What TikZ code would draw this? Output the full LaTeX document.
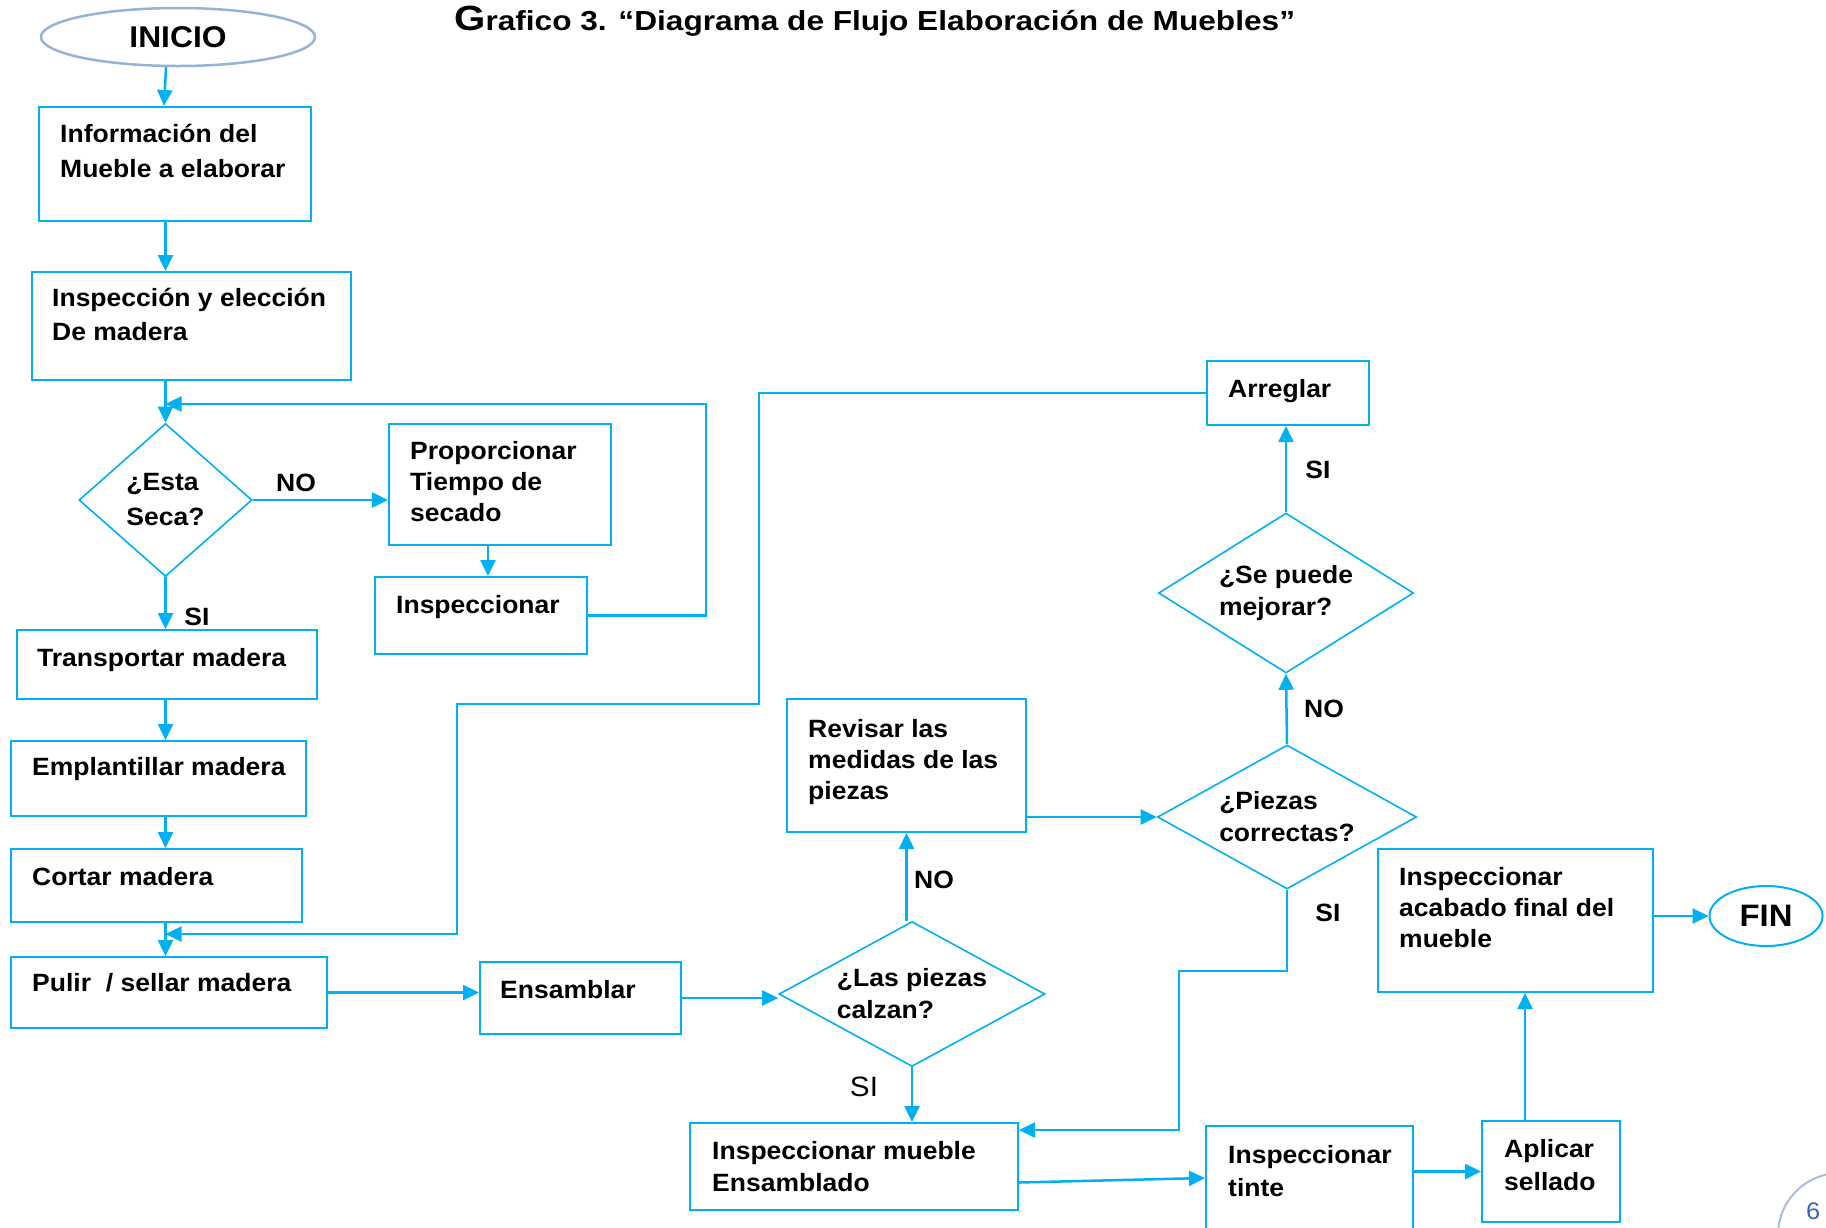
\documentclass[tikz,border=0pt]{standalone}
\usepackage{fontspec}
\setmainfont{Liberation Sans}[FakeStretch=1.06]
\newfontfamily\titulo{Liberation Sans}[FakeStretch=1.15]
\usetikzlibrary{shapes.geometric,arrows.meta}
\definecolor{azul}{HTML}{00B0F0}
\definecolor{bordeini}{HTML}{95B3D7}
\definecolor{pag}{HTML}{A9BEDC}
\definecolor{numpag}{HTML}{3B64AD}
\newcommand{\letra}{\bfseries\fontsize{25}{32}\selectfont}

\begin{document}
\begin{tikzpicture}[x=1pt, y=-1pt]
 \tikzstyle{caja}=[rectangle, draw=azul, line width=2pt, inner sep=0pt]
 \tikzstyle{rombo}=[diamond, draw=azul, line width=1.6pt, inner sep=0pt, align=left, font=\letra]
 \tikzstyle{texto}=[anchor=north west, inner sep=0pt, align=left, font=\letra]
 \tikzstyle{etiq}=[inner sep=0pt, font=\letra]
 \tikzstyle{flecha}=[-{Triangle[length=16pt, width=15pt]}, draw=azul, line width=2.5pt]
 \useasboundingbox (0,0) rectangle (1826,1227);
 \clip (0,0) rectangle (1826,1227);
 %
 \node[anchor=base west, inner sep=0pt, font=\titulo\bfseries\fontsize{27.5}{28}\selectfont] (titulo) at (454,30) {{\fontsize{35}{35}\selectfont G}rafico 3. “Diagrama de Flujo Elaboración de Muebles”};
 %
 \node[ellipse, draw=bordeini, line width=2.5pt, minimum width=274, minimum height=58, inner sep=0pt, font=\bfseries\fontsize{30}{30}\selectfont] (inicio) at (178,37) {INICIO};
 \node[ellipse, draw=azul, line width=2pt, minimum width=113, minimum height=60, inner sep=0pt, font=\bfseries\fontsize{31}{31}\selectfont] (fin) at (1766,916) {FIN};
 %
 \node[caja, minimum width=272, minimum height=114] (info) at (175,164) {};
 \node[caja, minimum width=319, minimum height=108] (insp) at (191.5,326) {};
 \node[caja, minimum width=222, minimum height=121] (prop) at (500,484.5) {};
 \node[caja, minimum width=212, minimum height=77] (inspeccionar) at (481,615.5) {};
 \node[caja, minimum width=300, minimum height=69] (transportar) at (167,664.5) {};
 \node[caja, minimum width=295, minimum height=75] (emplantillar) at (158.5,778.5) {};
 \node[caja, minimum width=291, minimum height=73] (cortar) at (156.5,885.5) {};
 \node[caja, minimum width=316, minimum height=71] (pulir) at (169,992.5) {};
 \node[caja, minimum width=201, minimum height=72] (ensamblar) at (580.5,998) {};
 \node[caja, minimum width=239, minimum height=133] (revisar) at (906.5,765.5) {};
 \node[caja, minimum width=162, minimum height=64] (arreglar) at (1288,393) {};
 \node[caja, minimum width=275, minimum height=143] (acabado) at (1515.5,920.5) {};
 \node[caja, minimum width=328, minimum height=87] (mueble) at (854,1166.5) {};
 \node[caja, minimum width=207, minimum height=124] (tinte) at (1309.5,1188) {};
 \node[caja, minimum width=138, minimum height=101] (aplicar) at (1551,1171.5) {};
 %
 \node[rombo, aspect=1.2, minimum width=173, minimum height=153, font=\bfseries\fontsize{25}{35}\selectfont] (seca) at (165.5,500) {¿Esta\\Seca?};
 \node[rombo, aspect=1.8, minimum width=266, minimum height=145] (calzan) at (912,994) {¿Las piezas\\calzan?};
 \node[rombo, aspect=1.8, minimum width=259, minimum height=144] (correctas) at (1287,817) {¿Piezas\\correctas?};
 \node[rombo, aspect=1.8, minimum width=255, minimum height=160] (mejorar) at (1286,593) {¿Se puede\\mejorar?};
 %
 \node[texto, font=\bfseries\fontsize{25}{35}\selectfont] (tinfo) at (60,124) {Información del\\Mueble a elaborar};
 \node[texto, font=\bfseries\fontsize{25}{34}\selectfont] (tinsp) at (52,288) {Inspección y elección\\De madera};
 \node[texto, font=\bfseries\fontsize{25}{31}\selectfont] (tprop) at (410,441) {Proporcionar\\Tiempo de\\secado};
 \node[texto] (tinspeccionar) at (396,595) {Inspeccionar};
 \node[texto] (ttransportar) at (37,648) {Transportar madera};
 \node[texto] (templantillar) at (32,757) {Emplantillar madera};
 \node[texto] (tcortar) at (32,867) {Cortar madera};
 \node[texto] (tpulir) at (32,973) {Pulir\ \ / sellar madera};
 \node[texto] (tensamblar) at (500,980) {Ensamblar};
 \node[texto, font=\bfseries\fontsize{25}{31}\selectfont] (trevisar) at (808,719) {Revisar las\\medidas de las\\piezas};
 \node[texto] (tarreglar) at (1228,379) {Arreglar};
 \node[texto, font=\bfseries\fontsize{25}{31}\selectfont] (tacabado) at (1399,867) {Inspeccionar\\acabado final del\\mueble};
 \node[texto] (tmueble) at (712,1141) {Inspeccionar mueble\\Ensamblado};
 \node[texto, font=\bfseries\fontsize{25}{33}\selectfont] (ttinte) at (1228,1145) {Inspeccionar\\tinte};
 \node[texto, font=\bfseries\fontsize{25}{33}\selectfont] (taplicar) at (1504,1139) {Aplicar\\sellado};
 %
 \node[etiq] (no1) at (296,483) {NO};
 \node[etiq] (si1) at (197,617) {SI};
 \node[etiq] (no2) at (934,880) {NO};
 \node[etiq, font=\fontsize{28}{28}\selectfont] (si2) at (864,1087) {SI};
 \node[etiq] (no3) at (1324,709) {NO};
 \node[etiq] (si3) at (1328,913) {SI};
 \node[etiq] (si4) at (1318,470) {SI};
 %
 \coordinate (lazo) at (706,404);
 \coordinate (vuelta1) at (759,704);
 \coordinate (vuelta2) at (457,934);
 \coordinate (bajada1) at (1179,971);
 \coordinate (bajada2) at (1179,1130);
 %%
 \draw[flecha] ([xshift=-12pt]inicio.south) -- ([xshift=-11pt]info.north);
 \draw[flecha] (info.south -| seca) -- (insp.north -| seca);
 \draw[flecha] (insp.south -| seca) -- (seca.north);
 \draw[flecha] (seca.east) -- (seca.east -| prop.west);
 \draw[flecha] ([xshift=-12pt]prop.south) -- ([xshift=-12pt]prop.south |- inspeccionar.north);
 \draw[flecha] (inspeccionar.east) -| (lazo) -- (lazo -| seca);
 \draw[flecha] (seca.south) -- (seca.south |- transportar.north);
 \draw[flecha] (transportar.south -| seca) -- (emplantillar.north -| seca);
 \draw[flecha] (emplantillar.south -| seca) -- (cortar.north -| seca);
 \draw[flecha] (cortar.south -| seca) -- (pulir.north -| seca);
 \draw[flecha] (arreglar.west) -| (vuelta1) -| (vuelta2) -- (vuelta2 -| seca);
 \draw[flecha] (pulir.east) -- (pulir.east -| ensamblar.west);
 \draw[flecha] (ensamblar.east) -- (ensamblar.east -| calzan.west);
 \draw[flecha] (calzan.north -| revisar) -- (revisar.south);
 \draw[flecha] (calzan.south) -- (calzan.south |- mueble.north);
 \draw[flecha] (revisar.east |- correctas) -- (correctas.west);
 \draw[flecha] (correctas.north) -- (mejorar.south);
 \draw[flecha] (mejorar.north) -- (mejorar.north |- arreglar.south);
 \draw[flecha] (correctas.south) |- (bajada1) -- (bajada2) -- (bajada2 -| mueble.east);
 \draw[flecha] ([yshift=-16pt]mueble.east) -- ([yshift=10pt]tinte.west);
 \draw[flecha] (tinte.east |- aplicar) -- (aplicar.west);
 \draw[flecha] ([xshift=-26pt]aplicar.north) -- ([xshift=-26pt]aplicar.north |- acabado.south);
 \draw[flecha] (acabado.east |- fin) -- (fin.west);
 %
 \draw[pag, line width=2pt] (1840,1235) circle[radius=62pt];
 \node[anchor=north west, inner sep=0pt, text=numpag, font=\fontsize{24}{24}\selectfont] (pagina) at (1806,1203) {6};
\end{tikzpicture}
\end{document}
